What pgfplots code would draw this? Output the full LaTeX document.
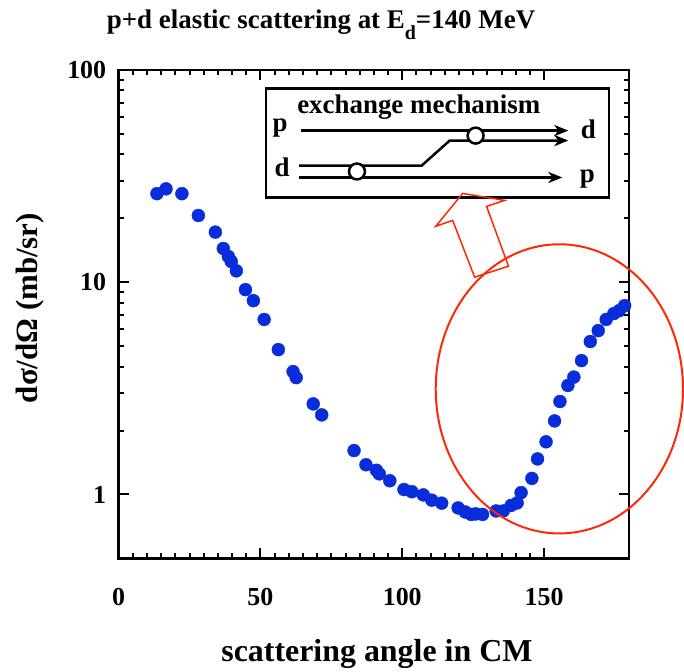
\documentclass[border=0pt]{standalone}
\usepackage{fontspec}
\setmainfont{Liberation Serif}
\usepackage{pgfplots}
\pgfplotsset{compat=1.18}
\usetikzlibrary{arrows.meta}
\definecolor{dotblue}{RGB}{10,45,220}
\definecolor{markred}{RGB}{255,40,5}
\begin{document}
\begin{tikzpicture}
% page frame, in pixel coordinates of the reference (y downwards)
\begin{scope}[shift={(-119pt,560pt)},x=1pt,y=-1pt]
\useasboundingbox (0,0) rectangle (684,672);
\end{scope}
\begin{axis}[
  at={(0pt,0pt)}, anchor=south west,
  scale only axis, width=512pt, height=490pt,
  xmin=0, xmax=180, ymode=log, ymin=0.5, ymax=100,
  xtick={0,50,100,150}, minor x tick num=9,
  ytick={1,10,100}, yticklabels={1,10,100},
  tick pos=both, tick align=inside,
  major tick length=10pt, minor tick length=5pt,
  every tick/.style={black,line width=2pt},
  axis line style={line width=2.5pt},
  tick label style={font=\fontsize{26}{30}\selectfont\bfseries},
  /pgf/number format/assume math mode=true,
  xticklabel style={yshift=-26pt},
  yticklabel style={xshift=-9pt},
]
\addplot[only marks, mark=*, mark size=6.5pt, dotblue] coordinates {
(13.5,26.1) (16.7,27.5) (22.3,26.1) (28.1,20.6) (34.1,17.2) (36.9,14.4)
(38.7,13.2) (39.7,12.5) (41.5,11.3) (44.7,9.22) (47.5,8.18) (51.3,6.67)
(56.3,4.81) (61.5,3.79) (62.6,3.55) (68.6,2.67) (71.6,2.37) (83.0,1.61)
(87.2,1.38) (90.9,1.30) (91.9,1.25) (95.6,1.16) (100.6,1.055) (103.4,1.03)
(107.4,0.995) (110.4,0.94) (113.9,0.91) (119.7,0.864) (122.2,0.827) (124.3,0.805)
(125.9,0.81) (128.3,0.805) (133.1,0.836) (135.6,0.836) (138.4,0.888) (140.5,0.912)
(141.9,1.02) (145.7,1.19) (147.7,1.47) (150.7,1.77) (153.7,2.22) (155.6,2.74)
(158.4,3.26) (160.5,3.57) (163.2,4.27) (166.3,5.25) (169.1,5.91) (171.9,6.67)
(174.6,7.11) (176.5,7.34) (178.4,7.75)
};
\end{axis}
\begin{scope}[shift={(-119pt,560pt)},x=1pt,y=-1pt]
% titles
\node[anchor=base,font=\fontsize{27}{30}\selectfont\bfseries] at (322,29)
  {p+d elastic scattering at E\raisebox{-11pt}{\fontsize{20}{20}\selectfont d}=140 MeV};
\node[anchor=base,font=\fontsize{32}{36}\selectfont\bfseries] at (378,663)
  {scattering angle in CM};
\node[rotate=90,font=\fontsize{31}{34}\selectfont\bfseries] at (30,309)
  {dσ/dΩ (mb/sr)};
% inset: exchange mechanism
\draw[line width=2.5pt,fill=white] (267,89) rectangle (611,198);
\node[font=\fontsize{27}{30}\selectfont\bfseries] at (420,107) {exchange mechanism};
\begin{scope}[line width=2.5pt,line join=miter,
  -{Stealth[length=14pt,width=11pt,inset=4pt]}]
\draw (302,131) -- (570,131);
\draw (300,166) -- (423,166) -- (451,141) -- (570,141);
\draw (300,178) -- (564,178);
\end{scope}
\draw[line width=2.5pt,fill=white] (477,136) circle (8pt);
\draw[line width=2.5pt,fill=white] (358,172) circle (8pt);
\begin{scope}[font=\fontsize{27}{30}\selectfont\bfseries,inner sep=0pt]
\node at (281,128) {p};
\node at (590,130) {d};
\node at (283,168) {d};
\node at (589,180) {p};
\end{scope}
% red markers
\draw[markred,line width=1.5pt,line join=miter]
  (476,278) -- (454,221) -- (437,227) -- (464,194) -- (506,201) -- (488,207) -- (510,267) -- cycle;
\draw[markred,line width=2pt] (561,390) ellipse [x radius=124pt, y radius=145pt];
\end{scope}
\end{tikzpicture}
\end{document}
